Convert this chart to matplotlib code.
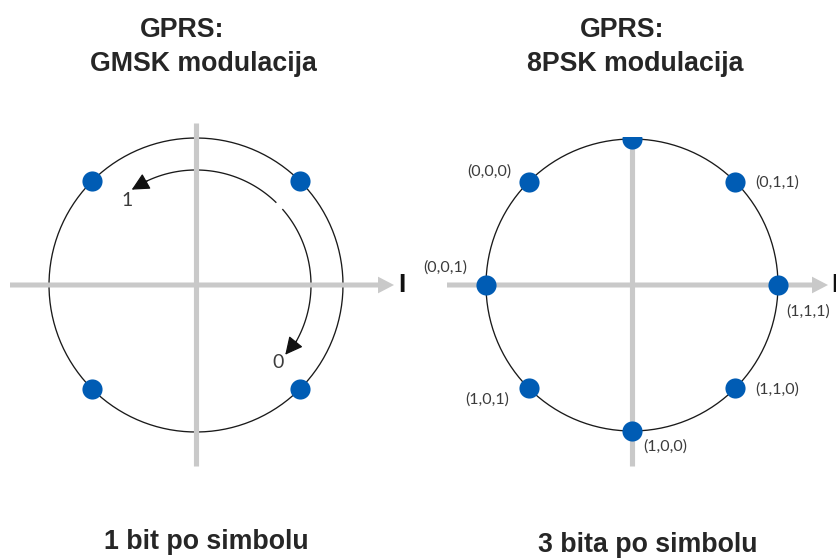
import numpy as np
import matplotlib
matplotlib.use("Agg")
import matplotlib.pyplot as plt

# ---------------- data ----------------
titles_top = ["GPRS:", "GPRS:"]
titles_mod = ["GMSK modulacija", "8PSK modulacija"]
captions = ["1 bit po simbolu", "3 bita po simbolu"]

gmsk_angles = [45, 135, 225, 315]          # constellation points (deg)
gmsk_arc_labels = ["1", "0"]

psk_angles = [90, 45, 0, 315, 270, 225, 180, 135]
psk_labels = ["", "(0,1,1)", "(1,1,1)", "(1,1,0)", "(1,0,0)", "(1,0,1)", "(0,0,1)", "(0,0,0)"]

# ---------------- style ----------------
W, H = 837, 559
DPI = 100
GRAY = "#c9c9c9"
BLUE = "#005cb4"
TXT = "#262626"
TXT2 = "#3c3c3c"

fig = plt.figure(figsize=(W / DPI, H / DPI), dpi=DPI)
fig.patch.set_facecolor("white")


def make_axes(x0, x1, ytop, ybot, cx, cy, r):
    """axes covering pixel box, data unit = circle radius, origin at circle center"""
    ax = fig.add_axes([x0 / W, (H - ybot) / H, (x1 - x0) / W, (ybot - ytop) / H])
    ax.set_xlim((x0 - cx) / r, (x1 - cx) / r)
    ax.set_ylim((cy - ybot) / r, (cy - ytop) / r)
    ax.axis("off")
    return ax


def draw_axes_lines(ax, r, xl, xt, yt, yb, cx, cy, ilabel_x):
    # horizontal I axis with arrow
    ax.annotate("", xy=((xt - cx) / r, 0), xytext=((xl - cx) / r, 0),
                arrowprops=dict(arrowstyle="simple,head_length=1.15,head_width=1.2,tail_width=0.36",
                                color=GRAY, lw=0, shrinkA=0, shrinkB=0, mutation_scale=10),
                zorder=3)
    # vertical Q axis
    ax.plot([0, 0], [(cy - yb) / r, (cy - yt) / r], color=GRAY, lw=3.7,
            solid_capstyle="butt", zorder=3)
    ax.text((ilabel_x - cx) / r, 0, "I", fontsize=19, fontweight="bold",
            family="Liberation Sans", color="#111111", ha="center", va="center", zorder=5)


t = np.linspace(0, 2 * np.pi, 400)
small = dict(family="Lato", fontweight="normal", color=TXT2, ha="center", va="center", zorder=5)

# ---------------- left panel : GMSK ----------------
lcx, lcy, lr = 196, 285, 147
axL = make_axes(0, 418, 110, 472, lcx, lcy, lr)
axL.plot(np.cos(t), np.sin(t), color="#1a1a1a", lw=0.95, zorder=2)
draw_axes_lines(axL, lr, 10, 394, 123, 466, lcx, lcy, 402)
ga = np.deg2rad(gmsk_angles)
axL.plot(np.cos(ga), np.sin(ga), "o", ms=14.5, color=BLUE, mec="none", zorder=6)

# rotation arcs
ar = 115 / lr
a1 = np.deg2rad(np.linspace(46, 116, 100))
axL.plot(ar * np.cos(a1), ar * np.sin(a1), color="#1a1a1a", lw=0.95, zorder=2)
axL.annotate("", xy=(ar * np.cos(np.deg2rad(124)), ar * np.sin(np.deg2rad(124))),
             xytext=(ar * np.cos(np.deg2rad(115)), ar * np.sin(np.deg2rad(115))),
             arrowprops=dict(arrowstyle="-|>,head_length=0.9,head_width=0.45", color="#111111",
                             lw=0.9, shrinkA=0, shrinkB=0, mutation_scale=12), zorder=4)
a2 = np.deg2rad(np.linspace(41, -30, 100))
axL.plot(ar * np.cos(a2), ar * np.sin(a2), color="#1a1a1a", lw=0.95, zorder=2)
axL.annotate("", xy=(0.985 * ar * np.cos(np.deg2rad(-38)), 0.985 * ar * np.sin(np.deg2rad(-38))),
             xytext=(ar * np.cos(np.deg2rad(-29)), ar * np.sin(np.deg2rad(-29))),
             arrowprops=dict(arrowstyle="-|>,head_length=0.9,head_width=0.45", color="#111111",
                             lw=0.9, shrinkA=0, shrinkB=0, mutation_scale=12), zorder=4)
axL.text(-69 / lr, 85 / lr, gmsk_arc_labels[0], fontsize=14, **small)
axL.text(82 / lr, -78 / lr, gmsk_arc_labels[1], fontsize=14, **small)

# ---------------- right panel : 8PSK ----------------
rcx, rcy, rr = 632, 285, 146
axR = make_axes(418, 837, 137, 472, rcx, rcy, rr)
axR.plot(np.cos(t), np.sin(t), color="#1a1a1a", lw=0.95, zorder=2)
draw_axes_lines(axR, rr, 447, 828, 140, 466, rcx, rcy, 835)
pa = np.deg2rad(psk_angles)
axR.plot(np.cos(pa), np.sin(pa), "o", ms=14.5, color=BLUE, mec="none", zorder=6)

# label offsets in pixels (dx right, dy up) relative to each point
lab_off = {"(0,1,1)": (42, -1), "(1,1,1)": (30, -27), "(1,1,0)": (42, -1),
           "(1,0,0)": (33, -16), "(1,0,1)": (-42, -11), "(0,0,1)": (-41, 17),
           "(0,0,0)": (-39, 10)}
for ang, lab in zip(pa, psk_labels):
    if not lab:
        continue
    dx, dy = lab_off[lab]
    axR.text(np.cos(ang) + dx / rr, np.sin(ang) + dy / rr, lab, fontsize=11.5, **small)

# ---------------- titles and captions ----------------
tfont = dict(family="Liberation Sans", fontweight="bold", fontsize=19.3, color=TXT)
fig.text(182 / W, 1 - 37 / H, titles_top[0], ha="center", va="baseline", **tfont)
fig.text(203 / W, 1 - 71 / H, titles_mod[0], ha="center", va="baseline", **tfont)
fig.text(622 / W, 1 - 37 / H, titles_top[1], ha="center", va="baseline", **tfont)
fig.text(635 / W, 1 - 71 / H, titles_mod[1], ha="center", va="baseline", **tfont)
fig.text(206 / W, 1 - 549 / H, captions[0], ha="center", va="baseline", **tfont)
fig.text(648 / W, 1 - 552 / H, captions[1], ha="center", va="baseline", **tfont)

fig.savefig("out.png", dpi=DPI, facecolor="white")
